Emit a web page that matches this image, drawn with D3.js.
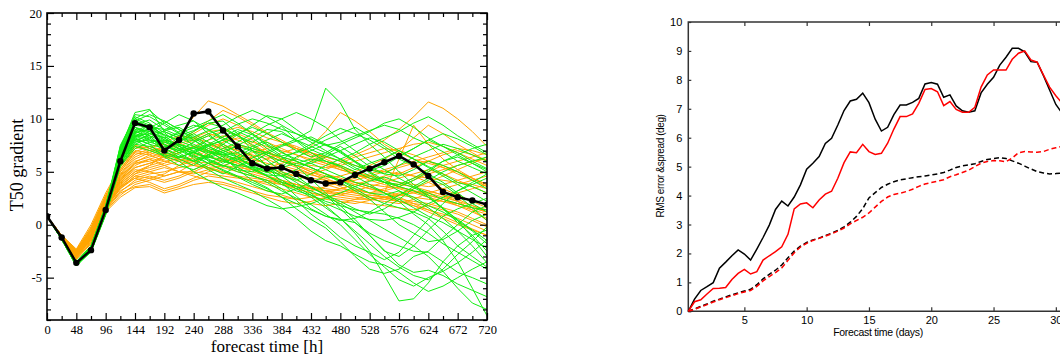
<!DOCTYPE html>
<html>
<head>
<meta charset="utf-8">
<script src="https://cdn.jsdelivr.net/npm/d3@7"></script>
<style>
  body { margin: 0; background: #fff; }
  svg { display: block; }
</style>
</head>
<body>
<div id="chart"></div>
<script>
// ---- left panel: ensemble of T50 gradient forecasts ----
const hours = [0,24,48,72,96,120,144,168,192,216,240,264,288,312,336,360,384,408,432,456,480,504,528,552,576,600,624,648,672,696,720];
const hourTicks = [0,48,96,144,192,240,288,336,384,432,480,528,576,624,672,720];
const gradTicks = [-5,0,5,10,15,20];

const meanLine = [0.8,-1.2,-3.6,-2.4,1.4,6.0,9.6,9.2,7.0,8.0,10.5,10.7,8.9,7.4,5.8,5.3,5.4,4.8,4.2,3.9,4.0,4.7,5.3,5.9,6.5,5.7,4.6,3.1,2.6,2.3,1.9];

const greenMembers = [
  [0.8,-1.3,-3.7,-2.2,1.5,7.2,10.6,10.9,8.8,8.2,7.9,8.6,9.0,8.4,7.8,8.6,9.3,8.0,7.1,6.5,6.0,5.2,5.8,6.3,7.0,6.2,5.5,4.8,4.0,3.6,3.0],
  [0.8,-1.4,-3.9,-2.4,1.2,6.5,9.8,9.0,7.5,6.8,7.3,6.0,5.5,6.2,7.0,6.1,5.0,4.3,3.5,2.8,1.5,0.2,-1.0,-2.5,-3.0,-2.0,-0.5,0.8,1.5,2.0,2.5],
  [0.8,-1.3,-3.6,-2.3,1.4,6.0,8.5,8.0,7.8,7.5,6.2,5.4,4.8,5.5,6.3,6.9,7.5,8.1,8.9,12.9,11.5,9.0,7.6,6.4,5.0,3.8,2.6,1.5,0.5,-0.5,-1.5],
  [0.8,-1.2,-3.8,-2.5,1.0,5.6,7.4,7.0,6.5,6.0,5.0,4.2,3.5,3.0,2.4,1.8,1.5,1.7,2.0,2.5,3.0,3.6,4.1,4.5,4.0,3.5,2.8,1.5,0.2,-1.0,-2.5],
  [0.8,-1.3,-3.7,-2.1,1.6,7.0,9.2,8.6,7.9,8.8,9.4,9.0,8.0,7.2,6.5,5.6,4.8,4.0,3.0,1.8,0.6,-0.8,-2.5,-4.8,-7.2,-7.0,-5.5,-3.5,-2.0,-1.0,-0.5],
  [0.8,-1.3,-3.5,-2.0,1.8,6.8,8.8,9.5,8.7,7.6,6.9,6.3,6.8,7.5,8.2,9.0,8.8,7.9,6.8,6.0,5.5,4.6,3.8,3.0,2.2,1.0,0.0,-1.5,-3.5,-6.0,-8.6],
  [0.8,-1.4,-3.8,-2.4,1.1,5.8,8.0,8.4,7.0,6.2,5.6,6.6,7.6,8.5,9.4,10.3,10.0,9.0,8.0,7.5,7.8,8.4,8.9,9.4,9.0,8.2,7.6,6.9,6.0,5.4,4.8],
  [0.8,-1.3,-3.6,-2.2,1.5,6.9,9.5,9.9,9.0,8.4,8.9,9.6,9.8,8.6,7.0,5.5,4.0,2.7,1.5,0.8,0.5,0.2,-0.8,-1.5,-2.0,-2.5,-2.6,-3.5,-4.5,-5.0,-5.6],
  [0.8,-1.2,-3.7,-2.3,1.3,6.3,8.2,7.6,6.4,5.6,5.2,5.8,6.5,6.0,5.3,4.7,4.6,5.2,6.0,6.6,7.4,6.5,5.5,4.8,4.6,5.2,6.0,5.6,5.0,4.2,3.4],
  [0.8,-1.3,-3.9,-2.5,1.0,5.9,7.6,8.2,8.9,9.2,8.4,7.5,6.4,5.2,4.2,3.5,2.6,1.5,0.5,-0.3,-1.6,-3.0,-4.2,-4.6,-4.2,-3.0,-2.5,-1.2,0.0,1.2,1.8],
  [0.8,-1.3,-3.7,-2.2,1.4,7.5,10.2,9.6,8.2,7.4,7.0,7.6,8.3,9.0,8.5,7.5,6.5,6.8,7.3,8.0,8.6,9.2,8.4,7.4,6.5,7.2,8.0,7.4,6.8,6.0,5.3],
  [0.8,-1.4,-3.6,-2.1,1.6,6.6,8.6,8.2,7.2,6.6,6.0,5.2,4.4,3.8,3.2,2.4,1.6,0.6,-0.6,-1.5,-2.0,-2.8,-3.5,-3.8,-4.5,-5.5,-6.3,-5.8,-5.0,-4.2,-3.5],
  [0.8,-1.3,-3.8,-2.3,1.2,6.1,8.3,9.2,9.8,9.0,8.0,7.0,6.1,5.6,5.9,6.7,7.4,7.9,8.3,7.6,6.8,5.9,4.9,4.0,3.2,2.4,1.6,0.6,-0.6,-2.0,-3.6],
  [0.8,-1.3,-3.7,-2.4,1.3,6.4,8.9,8.0,7.0,7.8,8.6,7.8,7.0,6.4,5.5,4.9,5.5,6.4,7.0,7.6,7.0,6.0,5.0,4.2,3.6,4.2,5.0,6.0,6.6,7.2,7.6],
  [0.8,-1.2,-3.6,-2.0,1.7,7.3,10.4,10.2,9.4,8.6,8.0,7.2,6.8,6.4,6.0,5.4,4.6,3.6,2.8,2.0,1.4,0.8,0.5,0.4,0.7,1.2,2.0,2.6,3.2,3.8,4.4],
  [0.8,-1.3,-3.8,-2.6,0.9,5.5,7.2,7.8,8.0,7.6,7.2,8.0,8.8,9.5,10.0,9.6,9.0,8.6,8.1,7.5,6.9,6.0,5.2,4.8,5.6,6.4,7.0,7.6,7.2,6.6,6.0],
  [0.8,-1.3,-3.7,-2.2,1.5,6.7,9.0,8.8,8.0,7.1,6.5,6.1,5.6,5.0,4.6,4.2,3.4,2.3,1.0,0.0,-1.2,-2.0,-2.6,-3.3,-2.6,-1.0,0.5,2.0,3.2,4.0,4.8],
  [0.8,-1.4,-3.9,-2.4,1.1,6.0,8.0,7.2,6.6,6.3,6.9,7.5,8.0,8.8,8.2,7.2,6.4,5.5,4.3,3.0,1.8,0.5,-1.0,-2.4,-3.8,-4.5,-4.3,-4.8,-5.6,-6.2,-6.8],
  [0.8,-1.3,-3.6,-2.2,1.4,6.9,9.8,9.3,8.5,8.0,8.3,8.9,9.4,10.2,10.8,10.2,9.4,8.6,7.8,7.0,6.2,5.6,5.1,5.6,6.4,7.2,8.0,8.6,8.1,7.4,6.6],
  [0.8,-1.3,-3.7,-2.3,1.3,6.2,8.4,7.8,7.4,7.0,6.4,5.8,5.1,4.5,3.8,3.2,2.9,3.4,4.0,4.6,4.2,3.6,3.0,2.8,3.2,2.6,1.8,1.2,0.4,-0.6,-1.8],
  [0.8,-1.2,-3.5,-2.0,1.8,7.4,10.0,10.8,9.6,8.7,7.4,6.6,5.8,6.5,7.2,7.8,6.9,6.0,5.4,4.8,4.0,3.2,2.4,1.2,0.0,-0.8,-1.6,-1.4,-0.6,0.4,1.0],
  [0.8,-1.3,-3.8,-2.5,1.0,5.7,7.8,8.6,8.2,7.2,6.8,6.2,5.6,5.2,5.0,5.6,6.2,6.9,7.6,8.4,9.1,8.6,8.0,7.2,6.2,5.6,4.8,4.0,3.0,2.0,1.2],
  [0.8,-1.3,-3.7,-2.2,1.4,6.5,8.7,9.0,8.5,7.9,7.4,6.9,6.2,5.4,4.7,4.0,3.2,2.5,1.9,1.0,0.0,-1.4,-2.8,-4.0,-5.2,-5.8,-5.0,-4.4,-3.6,-2.6,-1.4],
  [0.8,-1.4,-3.8,-2.4,1.2,6.0,8.1,7.6,7.2,8.0,8.8,9.6,9.2,8.4,7.5,6.6,5.6,4.6,3.6,2.8,2.2,1.5,1.0,1.5,2.4,3.4,4.2,5.0,5.6,6.0,6.4],
  [0.8,-1.3,-3.7,-2.3,1.3,6.6,9.2,8.8,8.2,8.6,9.2,9.8,10.4,9.6,8.6,7.6,6.8,6.2,5.8,5.2,4.6,4.0,3.6,3.0,2.4,1.6,0.8,0.2,-0.6,-1.4,-2.2],
  [0.8,-1.2,-3.6,-2.1,1.6,7.0,9.6,9.0,7.6,7.0,7.8,8.4,7.6,6.8,6.0,5.2,4.6,4.2,4.8,5.6,6.2,6.8,7.6,8.2,8.8,9.6,10.2,9.4,8.4,7.6,6.8],
  [0.8,-1.3,-3.8,-2.4,1.1,6.2,8.6,9.4,8.4,7.4,6.6,5.8,5.2,4.6,4.0,3.4,2.6,2.0,1.4,0.8,0.4,0.6,1.2,2.0,2.8,3.6,4.4,3.8,2.8,1.6,0.4],
  [0.8,-1.3,-3.7,-2.2,1.4,6.8,9.4,9.2,9.0,9.4,9.8,9.0,8.2,7.6,7.2,6.8,6.4,6.0,5.4,4.8,4.2,3.4,2.6,2.0,1.6,1.2,0.6,-0.6,-2.0,-3.0,-4.0],
  [0.8,-1.4,-3.9,-2.5,1.0,5.8,7.8,8.0,7.6,6.8,6.0,6.6,7.2,7.8,8.6,9.4,10.0,10.6,10.0,9.2,8.0,7.0,6.0,5.2,4.4,3.6,3.0,2.4,2.0,1.6,1.4],
  [0.8,-1.2,-3.5,-2.0,1.7,7.2,10.0,9.4,8.0,7.6,7.2,6.8,6.6,6.8,7.4,8.0,8.6,8.0,7.4,6.8,6.2,5.4,4.6,4.0,3.6,3.2,2.6,1.6,0.4,-1.2,-3.0],
  [0.8,-1.3,-3.7,-2.3,1.3,6.4,8.4,8.6,8.8,8.2,7.6,7.0,6.6,6.2,5.6,5.0,4.2,3.4,2.6,1.6,0.6,-0.6,-1.8,-3.0,-4.0,-4.8,-5.2,-4.2,-2.8,-1.6,-0.2],
  [0.8,-1.3,-3.6,-2.2,1.5,6.9,9.2,8.4,7.2,6.4,6.0,6.4,7.0,7.4,7.0,6.6,6.0,5.6,5.8,6.4,7.0,7.6,8.2,7.8,7.0,6.2,5.4,4.6,3.8,3.0,2.2],
  [0.8,-1.4,-3.8,-2.4,1.2,6.0,8.2,8.8,9.6,10.4,9.8,8.6,7.4,6.4,5.4,4.6,4.0,3.6,3.2,2.6,2.0,1.2,0.4,-0.4,-1.2,-2.0,-3.0,-4.4,-6.0,-7.4,-8.0],
  [0.8,-1.3,-3.7,-2.2,1.4,6.6,8.8,8.4,7.8,7.2,6.8,6.4,6.0,5.6,5.4,5.2,5.4,5.8,6.2,6.0,5.6,5.0,4.4,4.0,3.8,4.4,5.2,6.0,6.4,5.8,5.0],
  [0.8,-1.2,-3.6,-2.1,1.6,7.1,9.8,10.4,9.8,9.0,8.2,7.4,6.8,6.0,5.2,4.6,3.8,3.2,2.8,2.2,1.8,1.4,1.2,1.0,0.6,0.0,-0.8,-1.8,-2.6,-3.4,-4.2],
  [0.8,-1.3,-3.8,-2.5,1.0,5.6,7.6,7.4,6.8,6.4,6.8,7.4,8.0,8.6,9.2,8.6,7.8,7.0,6.4,6.8,7.6,8.2,8.8,9.6,10.0,9.2,8.2,7.4,6.6,5.8,5.2]
];

const orangeMembers = [
  [0.8,-1.1,-2.8,-1.0,2.0,4.5,6.0,6.4,6.8,7.4,8.0,8.6,8.2,7.6,7.0,6.4,6.0,5.6,5.0,4.6,4.2,4.0,3.8,3.6,3.5,3.2,3.0,2.6,2.2,1.8,1.4],
  [0.8,-1.0,-2.5,-0.6,2.5,5.2,7.2,7.4,7.0,8.4,10.2,11.7,11.2,10.4,9.6,8.7,8.0,7.2,6.4,5.8,5.2,4.8,4.4,4.0,3.8,3.6,3.2,2.8,2.4,1.8,1.2],
  [0.8,-1.2,-3.0,-1.3,1.6,3.4,4.4,4.8,5.0,5.4,5.6,5.3,4.9,4.5,4.2,3.8,3.4,3.0,2.6,2.4,2.2,2.0,2.3,2.6,3.0,3.2,2.8,2.4,1.8,1.2,0.6],
  [0.8,-1.1,-2.6,-0.8,2.2,4.0,5.4,5.8,6.2,6.8,7.2,7.6,7.2,6.7,6.2,5.8,5.4,5.0,4.7,4.4,4.6,5.0,5.6,6.2,7.0,8.2,9.4,8.6,7.6,6.8,6.0],
  [0.8,-1.2,-3.2,-1.6,1.4,3.0,3.6,3.8,3.2,3.6,4.2,4.6,4.4,4.0,3.6,3.2,2.8,2.4,2.0,1.8,2.0,2.4,2.8,2.6,2.2,1.8,1.4,1.0,0.6,0.0,-0.6],
  [0.8,-1.0,-2.4,-0.2,2.8,5.4,7.4,7.0,6.6,7.0,7.8,8.4,8.8,9.2,8.8,8.2,7.8,7.4,6.8,6.4,6.0,6.6,7.2,8.0,9.0,10.2,11.6,11.0,10.0,8.8,7.4],
  [0.8,-1.1,-2.9,-1.2,1.8,3.8,5.0,5.6,6.0,6.2,6.0,5.8,5.6,5.4,5.2,5.0,4.8,4.6,4.4,4.2,4.0,4.2,4.6,5.0,5.4,5.8,6.0,5.6,5.0,4.4,3.8],
  [0.8,-1.2,-3.1,-1.4,1.5,3.2,4.0,4.4,4.8,5.6,6.4,7.0,7.6,7.0,6.4,5.6,4.8,4.2,3.6,3.2,2.8,2.6,2.4,2.2,2.0,2.4,3.0,3.4,3.8,4.2,4.6],
  [0.8,-1.0,-2.6,-0.5,2.4,4.8,6.6,7.2,7.8,8.4,8.2,7.8,7.4,7.0,6.6,6.2,5.6,5.2,4.8,5.2,5.8,6.4,6.8,7.2,7.0,6.6,6.0,5.4,4.8,4.2,3.6],
  [0.8,-1.1,-2.7,-0.9,2.1,4.2,5.8,6.2,5.6,5.0,4.6,4.2,4.0,3.6,3.2,2.8,2.6,2.4,2.6,3.0,3.4,3.8,3.4,3.0,2.6,2.0,1.4,0.8,0.2,-0.4,-1.0],
  [0.8,-1.2,-3.0,-1.2,1.7,3.6,4.8,5.2,5.6,6.0,6.6,7.2,7.8,8.2,7.8,7.4,7.0,6.6,6.2,5.8,5.4,5.0,4.6,4.3,4.0,3.8,3.6,3.8,4.2,4.6,5.0],
  [0.8,-1.1,-2.8,-1.1,1.9,4.0,5.2,5.0,4.6,5.0,5.8,6.6,7.0,6.6,6.0,5.4,5.0,4.6,4.2,3.8,3.4,3.2,3.0,3.4,3.8,4.4,5.0,5.6,6.0,6.4,6.8],
  [0.8,-1.0,-2.3,0.0,3.0,5.5,7.5,7.2,6.8,6.4,6.2,6.6,7.2,7.6,7.2,6.6,6.0,5.4,4.8,4.2,3.6,3.0,2.6,2.4,2.8,3.4,4.0,4.6,5.2,5.8,6.4],
  [0.8,-1.2,-3.3,-1.8,1.2,2.6,3.5,3.6,3.0,3.4,3.8,4.0,3.8,3.4,3.0,2.6,2.2,2.0,2.2,2.6,3.0,3.4,3.0,2.6,2.2,1.8,1.2,0.6,0.0,-0.5,-1.0],
  [0.8,-1.1,-2.7,-0.8,2.3,4.6,6.2,6.8,7.4,7.8,8.6,9.4,10.0,9.4,8.6,7.8,7.2,6.6,6.0,5.6,5.2,4.8,4.4,4.0,3.6,3.2,2.8,2.4,2.0,1.6,1.2],
  [0.8,-1.2,-2.9,-1.1,1.8,3.9,5.0,5.4,5.8,6.4,6.8,6.4,6.0,5.6,5.0,4.6,4.2,3.8,3.4,3.0,2.8,3.2,3.6,4.0,4.4,4.8,5.2,4.8,4.2,3.6,3.0],
  [0.8,-1.1,-2.6,-0.7,2.2,4.4,5.8,6.0,6.4,6.8,7.4,7.0,6.6,6.2,5.8,5.4,5.8,6.2,7.4,8.8,10.6,9.8,8.8,7.6,6.8,6.2,5.8,5.4,5.0,4.4,3.8],
  [0.8,-1.2,-3.0,-1.3,1.6,3.4,4.6,5.0,5.4,5.0,4.8,5.2,5.6,5.2,4.8,4.4,4.0,3.6,3.2,3.6,4.0,4.4,4.8,5.2,5.6,6.0,6.4,6.8,7.2,7.0,6.6],
  [0.8,-1.0,-2.5,-0.4,2.6,5.0,6.8,6.6,6.0,5.6,6.0,6.8,7.8,8.6,8.0,7.0,6.2,5.6,5.0,4.4,3.8,3.4,3.0,3.0,6.2,9.4,7.6,6.2,5.2,4.4,3.6],
  [0.8,-1.1,-2.8,-1.0,2.0,4.1,5.6,6.2,6.6,6.2,5.8,5.4,5.0,4.6,4.4,4.2,4.0,3.8,3.6,3.4,3.2,3.0,2.8,2.6,2.4,2.2,2.0,1.6,1.2,0.6,0.0],
  [0.8,-1.1,-2.7,-0.9,2.1,4.3,5.9,6.6,7.2,7.6,8.2,8.8,9.0,8.4,7.6,6.8,6.2,5.6,5.2,4.8,4.4,4.0,3.6,3.2,2.8,2.6,2.4,2.2,2.0,1.6,1.2],
  [0.8,-1.2,-3.1,-1.5,1.5,3.1,4.2,4.6,4.2,4.6,5.2,5.8,6.2,5.8,5.2,4.6,4.0,3.4,3.0,2.6,2.4,2.2,2.0,1.8,1.6,1.4,1.8,2.4,3.0,3.4,3.8],
  [0.8,-1.0,-2.5,-0.5,2.5,5.0,6.9,7.4,7.6,7.2,6.8,6.4,6.2,6.0,5.8,6.2,6.8,7.2,6.8,6.2,5.6,5.0,4.6,4.4,4.8,5.4,6.0,6.6,7.0,6.6,6.0],
  [0.8,-1.1,-2.9,-1.2,1.8,3.7,4.8,5.6,6.6,7.0,7.4,7.0,6.4,5.8,5.2,4.6,4.2,3.8,3.4,3.2,3.4,3.8,4.2,4.6,5.0,4.6,4.0,3.4,2.8,2.2,1.6],
  [0.8,-1.2,-3.0,-1.4,1.6,3.5,4.6,4.4,4.0,4.4,5.0,5.6,6.0,6.4,6.8,7.2,7.6,7.2,6.6,6.0,5.4,4.8,4.2,3.8,3.4,3.0,2.6,2.2,1.8,1.4,1.0],
  [0.8,-1.1,-2.6,-0.6,2.3,4.7,6.4,7.0,7.2,7.8,8.8,9.8,10.8,10.2,9.4,8.6,7.8,7.2,6.8,6.4,6.0,5.6,5.2,5.0,4.8,4.6,4.4,4.2,4.0,3.8,3.4],
  [0.8,-1.2,-3.2,-1.7,1.3,2.8,3.8,4.2,4.6,5.0,5.0,4.8,4.6,4.4,4.2,4.0,3.8,3.6,3.4,3.2,3.0,2.8,2.6,2.4,2.2,2.0,1.8,1.4,1.0,0.4,-0.2],
  [0.8,-1.0,-2.4,-0.3,2.7,5.2,7.0,6.8,6.4,6.8,7.4,8.0,8.4,8.0,7.4,6.8,6.2,5.8,5.6,5.4,5.6,6.0,6.4,6.8,7.2,7.6,7.8,7.4,6.8,6.2,5.6],
  [0.8,-1.1,-2.8,-1.0,2.0,4.2,5.4,5.8,6.4,6.0,5.6,5.4,5.6,6.0,6.4,6.8,6.4,6.0,5.4,4.8,4.2,3.8,3.4,3.2,3.6,4.2,4.8,5.2,5.6,6.0,6.2],
  [0.8,-1.2,-3.0,-1.2,1.7,3.6,4.4,4.0,3.4,3.8,4.4,5.0,5.4,5.0,4.6,4.2,3.8,3.4,3.0,2.8,2.6,2.4,2.4,2.6,2.8,3.0,3.2,2.8,2.2,1.4,0.4]
];

// ---- right panel: RMS error and spread ----
const days = [0.5,1,1.5,2,2.5,3,3.5,4,4.5,5,5.5,6,6.5,7,7.5,8,8.5,9,9.5,10,10.5,11,11.5,12,12.5,13,13.5,14,14.5,15,15.5,16,16.5,17,17.5,18,18.5,19,19.5,20,20.5,21,21.5,22,22.5,23,23.5,24,24.5,25,25.5,26,26.5,27,27.5,28,28.5,29,29.5,30,30.5];
const dayTicks = [5,10,15,20,25,30];
const rmsTicks = [0,1,2,3,4,5,6,7,8,9,10];

const rmsBlack = [0,0.42,0.72,0.85,0.99,1.49,1.70,1.92,2.12,1.98,1.77,2.15,2.55,2.98,3.52,3.81,3.64,3.95,4.37,4.91,5.12,5.35,5.80,5.98,6.44,6.94,7.27,7.33,7.54,7.21,6.64,6.23,6.36,6.80,7.13,7.13,7.22,7.36,7.86,7.91,7.85,7.40,7.48,7.10,6.93,6.88,6.93,7.55,7.85,8.09,8.51,8.78,9.09,9.09,8.97,8.63,8.61,8.15,7.65,7.15,6.85];
const rmsRed = [0,0.33,0.40,0.60,0.79,0.80,0.82,1.10,1.31,1.45,1.29,1.37,1.77,1.92,2.06,2.23,2.66,3.54,3.71,3.75,3.58,3.85,4.05,4.15,4.60,5.14,5.51,5.48,5.77,5.52,5.42,5.46,5.81,6.30,6.73,6.73,6.82,7.19,7.67,7.70,7.59,7.11,7.25,6.98,6.88,6.88,7.05,7.75,8.17,8.34,8.34,8.34,8.71,8.92,9.00,8.69,8.61,8.17,7.75,7.45,7.20];
const spreadBlack = [0,0.08,0.17,0.25,0.35,0.42,0.50,0.57,0.64,0.70,0.76,0.92,1.12,1.28,1.42,1.60,1.85,2.08,2.25,2.38,2.47,2.53,2.62,2.70,2.80,2.92,3.08,3.28,3.55,3.92,4.10,4.28,4.39,4.48,4.54,4.58,4.62,4.65,4.68,4.71,4.75,4.80,4.88,4.97,5.03,5.06,5.10,5.18,5.25,5.28,5.31,5.28,5.20,5.12,5.02,4.92,4.83,4.78,4.75,4.76,4.78];
const spreadRed = [0,0.07,0.15,0.23,0.32,0.40,0.47,0.54,0.61,0.67,0.72,0.86,1.05,1.20,1.34,1.50,1.76,2.02,2.22,2.35,2.45,2.52,2.60,2.68,2.77,2.88,3.02,3.14,3.25,3.40,3.60,3.80,3.95,4.04,4.08,4.14,4.22,4.32,4.40,4.45,4.50,4.55,4.65,4.72,4.80,4.88,5.00,5.12,5.18,5.21,5.20,5.17,5.30,5.48,5.52,5.51,5.50,5.52,5.60,5.65,5.70];

const svg = d3.select('#chart').append('svg')
  .attr('width', 1060)
  .attr('height', 356);

// ================= left panel =================
const xL = d3.scaleLinear().domain([0, 720]).range([47, 487]);
const yL = d3.scaleLinear().domain([-9, 20]).range([320, 13]);

svg.append('clipPath').attr('id', 'clipL')
  .append('rect').attr('x', 47).attr('y', 13).attr('width', 440).attr('height', 307);

const lineL = d3.line()
  .x((d, i) => xL(hours[i]))
  .y(d => yL(d));

const plotL = svg.append('g').attr('clip-path', 'url(#clipL)');

plotL.selectAll('.orange').data(orangeMembers).enter()
  .append('path').attr('class', 'orange')
  .attr('d', lineL)
  .attr('fill', 'none')
  .attr('stroke', '#ffa500')
  .attr('stroke-width', 1);

plotL.selectAll('.green').data(greenMembers).enter()
  .append('path').attr('class', 'green')
  .attr('d', lineL)
  .attr('fill', 'none')
  .attr('stroke', '#11ee11')
  .attr('stroke-width', 1);

plotL.append('path')
  .attr('d', lineL(meanLine))
  .attr('fill', 'none')
  .attr('stroke', '#000')
  .attr('stroke-width', 2.5);

plotL.selectAll('.dot').data(meanLine).enter()
  .append('circle').attr('class', 'dot')
  .attr('cx', (d, i) => xL(hours[i]))
  .attr('cy', d => yL(d))
  .attr('r', 3.2)
  .attr('fill', '#000');

const minorHours = hours.filter(h => h % 48 !== 0);
const minorGrad = d3.range(-9, 21).filter(v => v % 5 !== 0);

const serif = g => g.selectAll('text')
  .attr('font-family', '"Liberation Serif", "Times New Roman", serif')
  .attr('font-size', 12.5)
  .attr('fill', '#000');
const noDomain = g => g.select('.domain').remove();

// bottom
svg.append('g').attr('transform', 'translate(0,320)')
  .call(d3.axisBottom(xL).tickValues(hourTicks).tickSize(-7).tickPadding(5).tickFormat(d => String(d)))
  .call(noDomain).call(serif);
svg.append('g').attr('transform', 'translate(0,320)')
  .call(d3.axisBottom(xL).tickValues(minorHours).tickSize(-4).tickFormat(''))
  .call(noDomain);
// top
svg.append('g').attr('transform', 'translate(0,13)')
  .call(d3.axisTop(xL).tickValues(hourTicks).tickSize(-7).tickFormat(''))
  .call(noDomain);
svg.append('g').attr('transform', 'translate(0,13)')
  .call(d3.axisTop(xL).tickValues(minorHours).tickSize(-4).tickFormat(''))
  .call(noDomain);
// left
svg.append('g').attr('transform', 'translate(47,0)')
  .call(d3.axisLeft(yL).tickValues(gradTicks).tickSize(-7).tickPadding(5).tickFormat(d => String(d)))
  .call(noDomain).call(serif);
svg.append('g').attr('transform', 'translate(47,0)')
  .call(d3.axisLeft(yL).tickValues(minorGrad).tickSize(-4).tickFormat(''))
  .call(noDomain);
// right
svg.append('g').attr('transform', 'translate(487,0)')
  .call(d3.axisRight(yL).tickValues(gradTicks).tickSize(-7).tickFormat(''))
  .call(noDomain);
svg.append('g').attr('transform', 'translate(487,0)')
  .call(d3.axisRight(yL).tickValues(minorGrad).tickSize(-4).tickFormat(''))
  .call(noDomain);

svg.selectAll('.tick line').attr('stroke', '#000').attr('stroke-width', 1.2);

svg.append('rect')
  .attr('x', 47).attr('y', 13).attr('width', 440).attr('height', 307)
  .attr('fill', 'none').attr('stroke', '#000').attr('stroke-width', 1.6);

svg.append('text')
  .attr('x', 267).attr('y', 352)
  .attr('text-anchor', 'middle')
  .attr('font-family', '"Liberation Serif", "Times New Roman", serif')
  .attr('font-size', 17)
  .text('forecast time [h]');

svg.append('text')
  .attr('transform', 'translate(23,165) rotate(-90)')
  .attr('text-anchor', 'middle')
  .attr('font-family', '"Liberation Serif", "Times New Roman", serif')
  .attr('font-size', 18)
  .text('T50 gradient');

// ================= right panel =================
const xR = d3.scaleLinear().domain([0.5, 31]).range([688.3, 1068.3]);
const yR = d3.scaleLinear().domain([0, 10]).range([311.3, 22]);

const lineR = d3.line()
  .x((d, i) => xR(days[i]))
  .y(d => yR(d));

const sans = g => g.selectAll('text')
  .attr('font-family', '"Liberation Sans", Arial, sans-serif')
  .attr('font-size', 11)
  .attr('fill', '#000');

const gR = svg.append('g');

gR.append('g').attr('transform', 'translate(0,311.3)')
  .call(d3.axisBottom(xR).tickValues(dayTicks).tickSize(-4).tickPadding(5).tickFormat(d => String(d)))
  .call(noDomain).call(sans);
gR.append('g').attr('transform', 'translate(0,22)')
  .call(d3.axisTop(xR).tickValues(dayTicks).tickSize(-4).tickFormat(''))
  .call(noDomain);
gR.append('g').attr('transform', 'translate(688.3,0)')
  .call(d3.axisLeft(yR).tickValues(rmsTicks).tickSize(-3).tickPadding(6).tickFormat(d => String(d)))
  .call(noDomain).call(sans);
gR.selectAll('.tick line').attr('stroke', '#333').attr('stroke-width', 1.2);

gR.append('path')
  .attr('d', `M1070,22H688.3V311.3H1070`)
  .attr('fill', 'none').attr('stroke', '#333').attr('stroke-width', 1.5);

const series = [
  { values: spreadBlack, color: '#000', dash: '5,3' },
  { values: spreadRed, color: '#ff0000', dash: '5,3' },
  { values: rmsBlack, color: '#000', dash: null },
  { values: rmsRed, color: '#ff0000', dash: null }
];

gR.selectAll('.rms').data(series).enter()
  .append('path').attr('class', 'rms')
  .attr('d', d => lineR(d.values))
  .attr('fill', 'none')
  .attr('stroke', d => d.color)
  .attr('stroke-width', 1.5)
  .attr('stroke-dasharray', d => d.dash);

gR.append('text')
  .attr('x', 878).attr('y', 336)
  .attr('text-anchor', 'middle')
  .attr('font-family', '"Liberation Sans", Arial, sans-serif')
  .attr('font-size', 10.5)
  .attr('letter-spacing', -0.3)
  .text('Forecast time (days)');

gR.append('text')
  .attr('transform', 'translate(664,166) rotate(-90)')
  .attr('text-anchor', 'middle')
  .attr('font-family', '"Liberation Sans", Arial, sans-serif')
  .attr('font-size', 10)
  .attr('letter-spacing', -0.4)
  .text('RMS error &spread (deg)');
</script>
</body>
</html>
